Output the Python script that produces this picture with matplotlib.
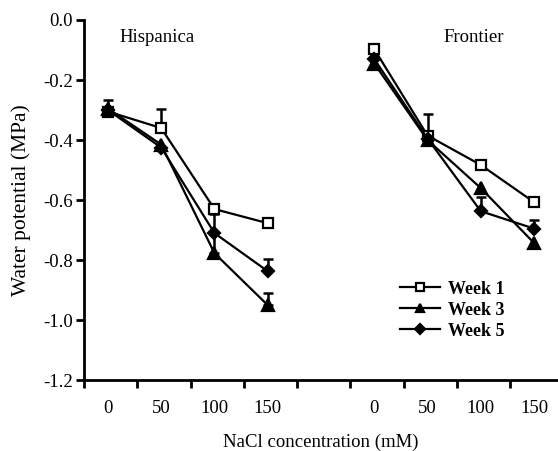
import numpy as np
import matplotlib
matplotlib.use("Agg")
import matplotlib.pyplot as plt

plt.rcParams['font.family'] = ['Liberation Serif', 'DejaVu Serif']

# NaCl levels (mM) and water potential (MPa)
nacl = [0, 50, 100, 150]
cultivars = ["Hispanica", "Frontier"]
weeks = ["Week 1", "Week 3", "Week 5"]
yticks = [0.0, -0.2, -0.4, -0.6, -0.8, -1.0, -1.2]

hisp_w1 = [-0.305, -0.36, -0.63, -0.677]
hisp_w3 = [-0.295, -0.415, -0.777, -0.95]
hisp_w5 = [-0.30, -0.425, -0.71, -0.837]
front_w1 = [-0.097, -0.385, -0.483, -0.607]
front_w3 = [-0.145, -0.40, -0.56, -0.743]
front_w5 = [-0.13, -0.395, -0.637, -0.695]

# upper error bars (SE)
hisp_w1_err = [0.04, 0.063, 0, 0]
hisp_w3_err = [0, 0, 0.13, 0.04]
hisp_w5_err = [0, 0, 0, 0.04]
front_w1_err = [0, 0.073, 0.016, 0]
front_w3_err = [0, 0, 0, 0]
front_w5_err = [0, 0, 0.047, 0.027]

series = {
    "Week 1": (hisp_w1, front_w1, hisp_w1_err, front_w1_err, 's', 'white'),
    "Week 3": (hisp_w3, front_w3, hisp_w3_err, front_w3_err, '^', 'black'),
    "Week 5": (hisp_w5, front_w5, hisp_w5_err, front_w5_err, 'D', 'black'),
}

fig = plt.figure(figsize=(5.58, 4.51), dpi=100)
ax = fig.add_axes([0.1505, 0.157, 0.8495, 0.7987])

fs = 13.5
pos_h = np.arange(len(nacl))
pos_f = pos_h + len(nacl) + 1

for name, (yh, yf, eh, ef, mk, fc) in series.items():
    ms = 7 if mk == 's' else (8 if mk == '^' else 6)
    for pos, y, e in [(pos_h, yh, eh), (pos_f, yf, ef)]:
        y = np.array(y)
        e = np.array(e)
        m = e > 0
        if m.any():
            ax.errorbar(pos[m], y[m], yerr=[np.zeros(m.sum()), e[m]], fmt='none',
                        ecolor='black', elinewidth=1.8, capsize=3.5, capthick=1.8, zorder=2)
    ax.plot(pos_h, yh, marker=mk, color='black', mfc=fc, mec='black', mew=1.6,
            ms=ms, lw=1.6, label=name, zorder=3)
    ax.plot(pos_f, yf, marker=mk, color='black', mfc=fc, mec='black', mew=1.6,
            ms=ms, lw=1.6, zorder=3)

ax.set_ylim(-1.2, 0.0)
ax.set_xlim(-0.45, 8.45)
ax.set_yticks(yticks)
ax.set_yticklabels(['%.1f' % v if v != 0 else '0.0' for v in yticks], fontsize=fs)

ax.set_xticks(np.arange(-0.45, 8.0, 1.0))
ax.set_xticklabels([])
ax.set_xticks(list(pos_h) + list(pos_f), minor=True)
ax.set_xticklabels([str(v) for v in nacl] * 2, minor=True, fontsize=fs)
ax.tick_params(axis='x', which='minor', length=0, pad=14)
ax.tick_params(axis='x', which='major', direction='out', length=6, width=2)
ax.tick_params(axis='y', direction='out', length=6, width=2, pad=2)

for s in ['top', 'right']:
    ax.spines[s].set_visible(False)
for s in ['left', 'bottom']:
    ax.spines[s].set_linewidth(2)

ax.set_ylabel("Water potential (MPa)", fontsize=15.5, labelpad=9)
ax.set_xlabel("NaCl concentration (mM)", fontsize=fs, labelpad=12)

ax.text(0.93, -0.06, cultivars[0], fontsize=fs, ha='center', va='center')
ax.text(6.86, -0.06, cultivars[1], fontsize=fs, ha='center', va='center')

ax.legend(loc='upper left', bbox_to_anchor=(0.667, 0.276), frameon=False,
          prop={'size': 13, 'weight': 'bold'}, handlelength=2.2,
          handletextpad=0.45, labelspacing=0.22, borderpad=0,
          borderaxespad=0, markerscale=0.8)

fig.savefig("out.png", dpi=100)
